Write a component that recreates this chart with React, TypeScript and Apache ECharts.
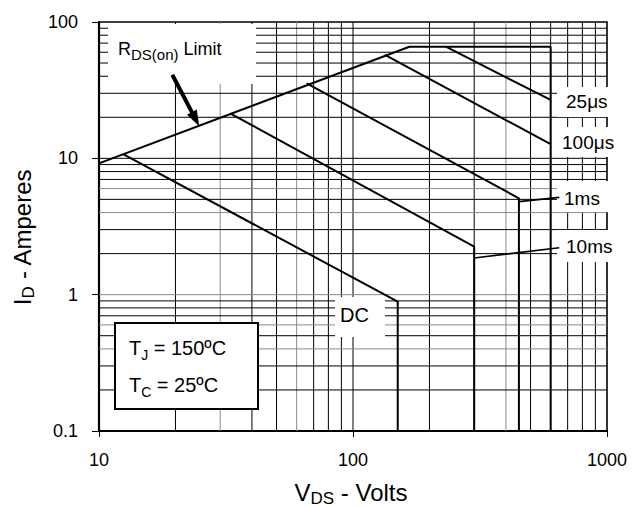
import React, { useEffect, useRef } from "react";
import * as echarts from "echarts";

// ---- axis / gridline values ----
const xRange = [10, 1000];
const yRange = [0.1, 100];
const xMajorLines = [100];
const yMajorLines = [1, 10];
const xMinorLines = [20, 30, 40, 50, 60, 70, 80, 90, 200, 300, 400, 500, 600, 700, 800, 900];
const yMinorLines = [0.2, 0.3, 0.4, 0.5, 0.6, 0.7, 0.8, 0.9, 2, 3, 4, 5, 6, 7, 8, 9, 20, 30, 40, 50, 60, 70, 80, 90];
const grayX = [30, 60, 400];
const grayY = [0.4, 0.6, 1, 4, 6];

// ---- curves (VDS volts, ID amperes) ----
const rdsLimit = [[10, 9.19], [166.7, 65.9], [600, 65.9], [600, 0.1]];
const curve25us = [[232, 65.9], [600, 26.8]];
const curve100us = [[133.6, 57.3], [600, 12.7]];
const curve1ms = [[65.7, 35.5], [450, 5.09], [450, 0.1]];
const curve10ms = [[32.8, 21.4], [300, 2.25], [300, 0.1]];
const curveDC = [[12.5, 10.7], [150, 0.888], [150, 0.1]];
const leader1ms = [[450, 4.81], [649, 5.17]];
const leader10ms = [[300, 1.86], [649, 2.21]];

const FONT = "'Liberation Sans', Arial, Helvetica, sans-serif";

export default function App() {
  const ref = useRef<HTMLDivElement>(null);

  useEffect(() => {
    document.body.style.margin = "0";
    if (!ref.current) return;
    const chart = echarts.init(ref.current, undefined, { renderer: "svg" });

    const gridSeries: any[] = [];
    const addV = (v: number, color: string) =>
      gridSeries.push({
        type: "line",
        data: [[v, yRange[0]], [v, yRange[1]]],
        symbol: "none",
        silent: true,
        z: 1,
        lineStyle: { color, width: 1 },
      });
    const addH = (v: number, color: string) =>
      gridSeries.push({
        type: "line",
        data: [[xRange[0], v], [xRange[1], v]],
        symbol: "none",
        silent: true,
        z: 1,
        lineStyle: { color, width: 1 },
      });
    [...xMajorLines, ...xMinorLines].forEach((v) => addV(v, grayX.includes(v) ? "#8a8a8a" : "#000"));
    [...yMajorLines, ...yMinorLines].forEach((v) => addH(v, grayY.includes(v) ? "#8a8a8a" : "#000"));

    const curve = (data: number[][], width = 2) => ({
      type: "line",
      data,
      symbol: "none",
      silent: true,
      z: 5,
      lineStyle: { color: "#000", width },
    });

    // arrow (annotation) pixel geometry
    const aStart = [172.3, 74.7];
    const aTip = [199.3, 126.3];
    const dx = aTip[0] - aStart[0];
    const dy = aTip[1] - aStart[1];
    const len = Math.hypot(dx, dy);
    const u = [dx / len, dy / len];
    const n = [u[1], -u[0]];
    const base = [aTip[0] - 16 * u[0], aTip[1] - 16 * u[1]];
    const pt = (p: number[], k: number) => [p[0] + k * n[0], p[1] + k * n[1]];
    const arrowPts = [pt(aStart, 2), pt(base, 2), pt(base, 5.5), aTip, pt(base, -5.5), pt(base, -2), pt(aStart, -2)];

    const whiteBox = (x: number, y: number, w: number, h: number) => ({
      type: "rect",
      z: 3,
      silent: true,
      shape: { x, y, width: w, height: h },
      style: { fill: "#fff" },
    });
    const label = (text: string, x: number, y: number, size = 19) => ({
      type: "text",
      z: 7,
      x,
      y,
      style: {
        text,
        fill: "#000",
        fontSize: size,
        fontFamily: FONT,
        textAlign: "left",
        align: "left",
        textVerticalAlign: "middle",
        verticalAlign: "middle",
      },
    });
    const richLabel = (text: string, x: number, y: number, rich: any, align = "left", rotation = 0) => ({
      type: "text",
      z: 7,
      x,
      y,
      rotation,
      style: {
        text,
        fill: "#000",
        fontFamily: FONT,
        textAlign: align,
        align,
        textVerticalAlign: "middle",
        verticalAlign: "middle",
        rich,
      },
    });

    chart.setOption({
      animation: false,
      grid: {
        left: 99,
        right: 35,
        top: 22,
        bottom: 76,
        show: true,
        borderColor: "#000",
        borderWidth: 1.6,
        backgroundColor: "transparent",
      },
      xAxis: {
        type: "log",
        logBase: 10,
        min: xRange[0],
        max: xRange[1],
        axisLine: { show: true, lineStyle: { color: "#000", width: 2.2 } },
        axisTick: { show: true, inside: false, length: 6, lineStyle: { color: "#000", width: 1 } },
        minorTick: { show: false },
        splitLine: { show: false },
        axisLabel: {
          color: "#000",
          fontSize: 18,
          fontFamily: FONT,
          margin: 20,
          formatter: (v: number) => String(v),
        },
      },
      yAxis: {
        type: "log",
        logBase: 10,
        min: yRange[0],
        max: yRange[1],
        axisLine: { show: true, lineStyle: { color: "#000", width: 2.2 } },
        axisTick: { show: true, inside: false, length: 7, lineStyle: { color: "#000", width: 1 } },
        minorTick: { show: false },
        splitLine: { show: false },
        axisLabel: {
          color: "#000",
          fontSize: 18,
          fontFamily: FONT,
          margin: 21,
          formatter: (v: number) => String(v),
        },
      },
      series: [
        ...gridSeries,
        curve(rdsLimit),
        curve(curve25us),
        curve(curve100us),
        curve(curve1ms),
        curve(curve10ms),
        curve(curveDC),
        curve(leader1ms, 1.6),
        curve(leader10ms, 1.6),
      ],
      graphic: [
        whiteBox(108, 24, 148, 60),
        whiteBox(557, 87, 72, 30),
        whiteBox(557, 127, 72, 30),
        whiteBox(557, 181, 72, 31),
        whiteBox(557, 230, 72, 32),
        whiteBox(335, 297, 50, 40),
        {
          type: "rect",
          z: 3,
          silent: true,
          shape: { x: 115, y: 323, width: 143, height: 86 },
          style: { fill: "#fff", stroke: "#000", lineWidth: 2 },
        },
        {
          type: "polygon",
          z: 7,
          silent: true,
          shape: { points: arrowPts },
          style: { fill: "#000" },
        },
        richLabel("{a|R}{b|DS(on)}{a| Limit}", 118, 49, {
          a: { fontSize: 18, lineHeight: 26, fontFamily: FONT, fill: "#000" },
          b: { fontSize: 15, lineHeight: 12, verticalAlign: "bottom", fontFamily: FONT, fill: "#000" },
        }),
        label("25μs", 566, 101),
        label("100μs", 562, 142.5),
        label("1ms", 564, 198),
        label("10ms", 566, 246),
        label("DC", 340, 315, 20),
        richLabel("{a|T}{b|J}{a| = 150ºC}", 129, 347.5, {
          a: { fontSize: 20, lineHeight: 28, fontFamily: FONT, fill: "#000" },
          b: { fontSize: 14, lineHeight: 20, verticalAlign: "bottom", fontFamily: FONT, fill: "#000" },
        }),
        richLabel("{a|T}{b|C}{a| = 25ºC}", 129, 385, {
          a: { fontSize: 20, lineHeight: 28, fontFamily: FONT, fill: "#000" },
          b: { fontSize: 14, lineHeight: 20, verticalAlign: "bottom", fontFamily: FONT, fill: "#000" },
        }),
        richLabel(
          "{a|V}{b|DS}{a| - Volts}",
          351,
          492,
          {
            a: { fontSize: 24, lineHeight: 30, fontFamily: FONT, fill: "#000" },
            b: { fontSize: 17, lineHeight: 20, verticalAlign: "bottom", fontFamily: FONT, fill: "#000" },
          },
          "center"
        ),
        richLabel(
          "{a|I}{b|D}{a| - Amperes}",
          22,
          237,
          {
            a: { fontSize: 24, lineHeight: 30, fontFamily: FONT, fill: "#000" },
            b: { fontSize: 17, lineHeight: 16, verticalAlign: "bottom", fontFamily: FONT, fill: "#000" },
          },
          "center",
          Math.PI / 2
        ),
      ],
    });

    return () => chart.dispose();
  }, []);

  return <div ref={ref} style={{ width: 642, height: 507 }} />;
}
